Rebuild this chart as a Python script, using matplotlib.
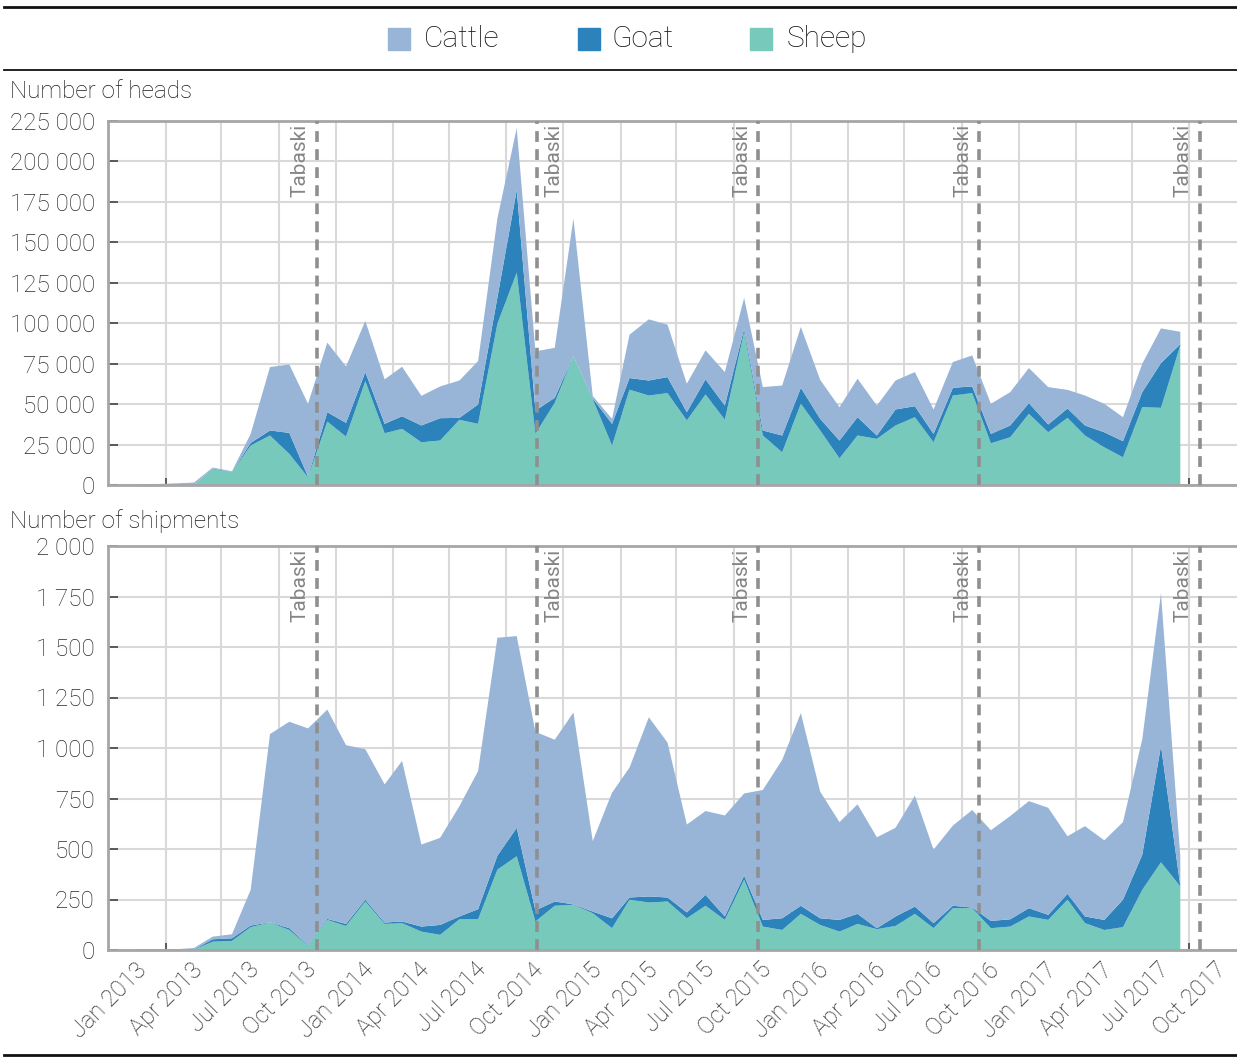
import matplotlib
matplotlib.use("Agg")
import matplotlib.pyplot as plt
import matplotlib.dates as mdates
import matplotlib.transforms as mtransforms
from matplotlib.patches import Rectangle
from matplotlib.lines import Line2D
from matplotlib.ticker import FuncFormatter, MultipleLocator
import pandas as pd

# ---------------- data ----------------
months = pd.date_range("2013-01-01", periods=56, freq="MS")

heads_sheep = [0, 0, 0, 0, 9900, 7800, 24400, 30600, 19200, 4700, 39200, 29900,
               64200, 32000, 34700, 26400, 27500, 40300, 37800, 99700, 131300, 31600, 50800, 79700,
               53000, 24400, 58900, 55300, 56800, 39900, 56000, 40300, 94600, 30600, 20200, 50200,
               33700, 16500, 30600, 28500, 36800, 41900, 26400, 55300, 56800, 25800, 29500, 44000,
               32600, 41500, 30600, 23300, 17100, 48100, 47700, 86300]
heads_goat = [0, 0, 0, 0, 300, 200, 1600, 3100, 13000, 500, 5800, 8500,
              5600, 5800, 7800, 10400, 13800, 1200, 12000, 16300, 51000, 14400, 3100, 0,
              500, 13400, 7200, 9300, 9900, 5100, 9300, 8800, 2000, 3100, 10400, 9900,
              7200, 11000, 11300, 2100, 9900, 6800, 5200, 4800, 4100, 5800, 7300, 6600,
              4800, 5800, 6200, 9300, 10000, 9300, 27700, 700]
heads_cattle = [600, 600, 1000, 1500, 600, 500, 5600, 39200, 42300, 45000, 43000, 34900,
                31600, 27500, 30600, 18300, 19600, 23100, 26800, 48800, 38300, 36600, 30900, 84900,
                1500, 3100, 26800, 37800, 32400, 17600, 17900, 20700, 19000, 26800, 30900, 37600,
                24100, 20600, 23800, 18500, 17900, 21100, 15100, 15900, 19200, 18600, 20600, 21700,
                23100, 11500, 18500, 17600, 14800, 17600, 21400, 7700]

ship_sheep = [0, 0, 0, 2, 41, 45, 113, 136, 99, 20, 149, 119,
              240, 129, 133, 91, 75, 152, 152, 398, 464, 141, 219, 224,
              182, 108, 249, 235, 240, 157, 219, 149, 348, 116, 99, 179,
              124, 91, 129, 103, 119, 179, 108, 207, 207, 108, 116, 166,
              149, 249, 133, 99, 113, 298, 434, 315]
ship_goat = [0, 0, 0, 1, 12, 13, 8, 1, 9, 3, 5, 10,
             9, 7, 8, 25, 49, 14, 50, 69, 141, 55, 21, 2,
             8, 49, 11, 30, 20, 29, 54, 17, 20, 33, 58, 40,
             33, 58, 50, 5, 47, 36, 25, 12, 3, 36, 36, 41,
             25, 29, 33, 50, 136, 174, 577, 3]
ship_cattle = [5, 3, 3, 7, 13, 20, 177, 932, 1022, 1074, 1036, 885,
               745, 684, 795, 406, 431, 546, 684, 1079, 949, 884, 801, 950,
               349, 622, 643, 887, 767, 435, 415, 500, 407, 643, 784, 954,
               627, 484, 542, 450, 439, 549, 364, 397, 483, 449, 511, 530,
               530, 285, 447, 394, 384, 572, 754, 146]

tabaski_dates = pd.to_datetime(["2013-10-15", "2014-10-04", "2015-09-24",
                                "2016-09-12", "2017-09-01"])
tabaski_label_right = [False, True, False, False, False]
series_names = ["Cattle", "Goat", "Sheep"]
panel_titles = ["Number of heads", "Number of shipments"]

# ---------------- style ----------------
C_CATTLE = "#98b4d7"
C_GOAT = "#2c83bb"
C_SHEEP = "#77c9bb"
GRID = "#d9d9d9"
SPINE = "#a6a6a6"
TXT = "#2a2a2a"
FONT = ["Roboto", "DejaVu Sans"]

plt.rcParams["font.family"] = FONT
plt.rcParams["font.weight"] = "light"

W, H = 1237, 1060
fig = plt.figure(figsize=(W / 100, H / 100), dpi=100)


def fx(px):
    return px / W


def fy(py):
    return 1 - py / H


left = fx(108)
width = fx(1237) - left
ax1 = fig.add_axes([left, fy(485), width, fy(121) - fy(485)])
ax2 = fig.add_axes([left, fy(950), width, fy(546) - fy(950)])

xlim = (pd.Timestamp("2012-11-14"), pd.Timestamp("2017-10-31"))
quarters = pd.date_range("2013-01-01", "2017-10-01", freq="QS")
mid_q = [q + pd.DateOffset(months=1, days=14) for q in quarters[:-1]]


def fmt_space(v, pos):
    return f"{int(round(v)):,}".replace(",", " ")


def style_axes(ax, ymax, ystep, sheep, goat, cattle, show_labels):
    ax.stackplot(months, sheep, goat, cattle,
                 colors=[C_SHEEP, C_GOAT, C_CATTLE], linewidth=0, zorder=2)
    ax.set_xlim(*xlim)
    ax.set_ylim(0, ymax)
    ax.yaxis.set_major_locator(MultipleLocator(ystep))
    ax.yaxis.set_major_formatter(FuncFormatter(fmt_space))
    ax.set_xticks(list(quarters))
    ax.set_xticks(mid_q, minor=True)
    ax.grid(True, which="minor", axis="x", color=GRID, lw=1.5, zorder=0)
    ax.grid(True, which="major", axis="y", color=GRID, lw=1.5, zorder=0)
    ax.grid(False, which="major", axis="x")
    ax.set_axisbelow(True)
    ax.tick_params(axis="x", which="major", length=0, pad=6)
    ax.tick_params(axis="x", which="minor", direction="in", length=5,
                   width=1.2, color="#444444")
    ax.tick_params(axis="y", direction="in", length=7, width=1.2,
                   color="#444444", labelsize=17.5, labelcolor=TXT, pad=9.5)
    for s in ["top", "bottom", "left"]:
        ax.spines[s].set_color(SPINE)
        ax.spines[s].set_linewidth(2)
    ax.spines["right"].set_visible(False)
    if show_labels:
        ax.xaxis.set_major_formatter(mdates.DateFormatter("%b %Y"))
        offset = mtransforms.ScaledTranslation(13 / 100, 0, fig.dpi_scale_trans)
        for lab in ax.get_xticklabels():
            lab.set_rotation(45)
            lab.set_ha("right")
            lab.set_fontsize(17)
            lab.set_color(TXT)
            lab.set_transform(lab.get_transform() + offset)
    else:
        ax.set_xticklabels([])
    for d, right in zip(tabaski_dates, tabaski_label_right):
        ax.axvline(d, color="#8f8f8f", lw=2.6, ls=(0, (3, 2)), zorder=3)
        ax.annotate("Tabaski", xy=(d, 1), xycoords=("data", "axes fraction"),
                    xytext=(5 if right else -5, -2), textcoords="offset points",
                    rotation=90, ha="left" if right else "right", va="top",
                    fontsize=15, fontweight="normal", color="#858585", zorder=4)


style_axes(ax1, 225000, 25000, heads_sheep, heads_goat, heads_cattle, False)
style_axes(ax2, 2000, 250, ship_sheep, ship_goat, ship_cattle, True)

fig.text(fx(10), fy(92), panel_titles[0], ha="left", va="center",
         fontsize=17.5, color="#1a1a1a")
fig.text(fx(10), fy(521), panel_titles[1], ha="left", va="center",
         fontsize=17.5, color="#1a1a1a")

# legend (manual)
leg_colors = [C_CATTLE, C_GOAT, C_SHEEP]
sq_x = [388, 578, 750]
txt_x = [424, 612, 787]
for name, col, sx, tx in zip(series_names, leg_colors, sq_x, txt_x):
    fig.add_artist(Rectangle((fx(sx), fy(50)), fx(22), fy(28) - fy(50),
                             transform=fig.transFigure, color=col))
    fig.text(fx(tx), fy(39), name, ha="left", va="center", fontsize=21.5,
             color="#111111")

# horizontal rules
fig.add_artist(Line2D([fx(4), 1], [fy(7), fy(7)], color="#111111", lw=2))
fig.add_artist(Line2D([fx(4), 1], [fy(70), fy(70)], color="#111111", lw=1.3))
fig.add_artist(Line2D([fx(4), 1], [fy(1055), fy(1055)], color="#111111", lw=2))

fig.savefig("out.png", dpi=100)
